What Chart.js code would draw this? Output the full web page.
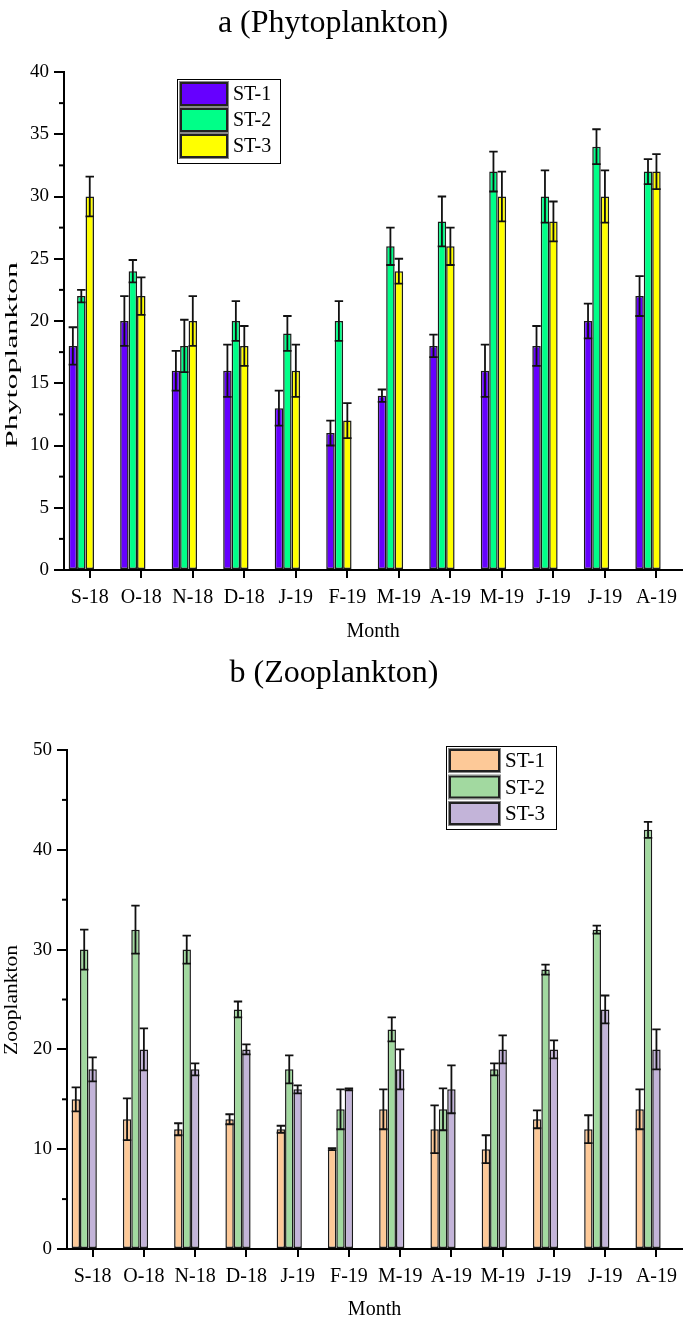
<!DOCTYPE html>
<html>
<head>
<meta charset="utf-8">
<script src="https://cdn.jsdelivr.net/npm/chart.js@4.4.1/dist/chart.umd.min.js"></script>
<style>
  html, body { margin: 0; padding: 0; background: #fff; }
  canvas { display: block; }
</style>
</head>
<body>
<canvas id="c1" width="685" height="650"></canvas>
<canvas id="c2" width="685" height="675"></canvas>
<script>
// ---------------- DATA ----------------
const months = ['S-18','O-18','N-18','D-18','J-19','F-19','M-19','A-19','M-19','J-19','J-19','A-19'];
const seriesNames = ['ST-1','ST-2','ST-3'];

const phytoST1    = [18, 20, 16, 16, 13, 11, 14, 18, 16, 18, 20, 22];
const phytoST1Err = [1.5, 2.0, 1.6, 2.1, 1.4, 1.0, 0.5, 0.9, 2.1, 1.6, 1.4, 1.6];
const phytoST2    = [22, 24, 18, 20, 19, 20, 26, 28, 32, 30, 34, 32];
const phytoST2Err = [0.5, 0.9, 2.1, 1.6, 1.4, 1.6, 1.5, 2.0, 1.6, 2.1, 1.4, 1.0];
const phytoST3    = [30, 22, 20, 18, 16, 12, 24, 26, 30, 28, 30, 32];
const phytoST3Err = [1.6, 1.5, 2.0, 1.6, 2.1, 1.4, 1.0, 1.5, 2.0, 1.6, 2.1, 1.4];

const zooST1    = [15, 13, 12, 13, 12, 10, 14, 12, 10, 13, 12, 14];
const zooST1Err = [1.2, 2.1, 0.6, 0.5, 0.35, 0.1, 2.0, 2.4, 1.4, 0.9, 1.4, 2.0];
const zooST2    = [30, 32, 30, 24, 18, 14, 22, 14, 18, 28, 32, 42];
const zooST2Err = [2.0, 2.4, 1.4, 0.8, 1.4, 2.0, 1.2, 2.1, 0.6, 0.5, 0.4, 0.8];
const zooST3    = [18, 20, 18, 20, 16, 16, 18, 16, 20, 20, 24, 20];
const zooST3Err = [1.2, 2.1, 0.6, 0.5, 0.4, 0.1, 2.0, 2.4, 1.4, 0.9, 1.4, 2.0];

const phytoTicks = { min: 0, max: 40, step: 5 };
const zooTicks   = { min: 0, max: 50, step: 10 };

// ---------------- STYLE ----------------
const FONT = '"Liberation Serif", "Times New Roman", serif';
Chart.defaults.font.family = FONT;
Chart.defaults.color = '#000';

const phytoColors = ['#6600ff', '#00ff88', '#ffff00'];
const zooColors   = ['#fdc998', '#a2d9a0', '#c3b4d9'];

const decor = {
  id: 'decor',
  afterDatasetsDraw(chart, args, o) {
    const ctx = chart.ctx;
    const ys = chart.scales.y;
    ctx.save();
    ctx.strokeStyle = '#111';
    ctx.lineWidth = 1.8;
    chart.data.datasets.forEach((ds, i) => {
      if (!ds.errors) return;
      const meta = chart.getDatasetMeta(i);
      meta.data.forEach((el, j) => {
        const v = ds.data[j], e = ds.errors[j];
        if (v == null || e == null) return;
        const x = el.x;
        const hw = el.width / 2;
        const yh = ys.getPixelForValue(v + e);
        const yl = ys.getPixelForValue(v - e);
        ctx.beginPath();
        ctx.moveTo(x, yh); ctx.lineTo(x, yl);
        ctx.moveTo(x - hw, yh); ctx.lineTo(x + hw, yh);
        ctx.moveTo(x - hw, yl); ctx.lineTo(x + hw, yl);
        ctx.stroke();
      });
    });
    ctx.restore();
  },
  afterDraw(chart, args, o) {
    const ctx = chart.ctx;
    const ca = chart.chartArea;
    const ys = chart.scales.y;
    ctx.save();
    // minor ticks
    ctx.strokeStyle = '#000';
    ctx.lineWidth = 2;
    const t = ys.ticks;
    for (let i = 0; i < t.length - 1; i++) {
      const v = (t[i].value + t[i + 1].value) / 2;
      const py = ys.getPixelForValue(v);
      ctx.beginPath();
      ctx.moveTo(ca.left - o.minorLen, py);
      ctx.lineTo(ca.left, py);
      ctx.stroke();
    }
    ctx.fillStyle = '#000';
    // title
    ctx.font = o.titleSize + 'px ' + FONT;
    ctx.textAlign = 'center';
    ctx.textBaseline = 'middle';
    ctx.fillText(o.title, o.titleX, o.titleY);
    // x title
    ctx.font = o.xTitleSize + 'px ' + FONT;
    ctx.fillText(o.xTitle, (ca.left + ca.right) / 2, o.xTitleY);
    // y title (stretched along its length, condensed across)
    ctx.save();
    ctx.translate(o.yTitleX, o.yTitleY);
    ctx.rotate(-Math.PI / 2);
    ctx.font = o.yTitleSize + 'px ' + FONT;
    const w = ctx.measureText(o.yTitle).width;
    ctx.scale(o.yTitleLen / w, o.yTitleCross);
    ctx.fillText(o.yTitle, 0, 0);
    ctx.restore();
    // legend
    const L = o.legend;
    ctx.fillStyle = '#fff';
    ctx.fillRect(L.x, L.y, L.w, L.h);
    ctx.strokeStyle = '#000';
    ctx.lineWidth = 1;
    ctx.strokeRect(L.x + 0.5, L.y + 0.5, L.w, L.h);
    ctx.font = L.fontSize + 'px ' + FONT;
    ctx.textAlign = 'left';
    ctx.textBaseline = 'middle';
    chart.data.datasets.forEach((ds, i) => {
      if (!ds.errors) return;
      const sy = L.y + L.pad + i * L.step;
      ctx.fillStyle = ds.backgroundColor;
      ctx.fillRect(L.x + L.pad, sy, L.sw, L.sh);
      ctx.strokeStyle = '#222';
      ctx.lineWidth = 2;
      ctx.strokeRect(L.x + L.pad + 1, sy + 1, L.sw - 2, L.sh - 2);
      ctx.strokeStyle = '#888';
      ctx.lineWidth = 1;
      ctx.strokeRect(L.x + L.pad - 0.5, sy - 0.5, L.sw + 1, L.sh + 1);
      ctx.fillStyle = '#000';
      ctx.fillText(ds.label, L.x + L.pad + L.sw + 5, sy + L.sh / 2 + 1);
    });
    ctx.restore();
  }
};

function makeDatasets(vals, errs, colors) {
  const ds = vals.map((v, i) => ({
    label: seriesNames[i],
    data: v,
    errors: errs[i],
    backgroundColor: colors[i],
    borderColor: '#1a1a1a',
    borderWidth: 1.5,
    borderSkipped: false,
    barPercentage: 1,
    categoryPercentage: 0.82
  }));
  // two empty slots so that the month tick sits on the ST-3 bar, as in the original
  for (let k = 0; k < 2; k++) {
    ds.push({ label: '', data: months.map(() => null), barPercentage: 1, categoryPercentage: 0.82 });
  }
  return ds;
}

function makeChart(id, cfg) {
  return new Chart(document.getElementById(id), {
    type: 'bar',
    data: { labels: months, datasets: makeDatasets(cfg.vals, cfg.errs, cfg.colors) },
    plugins: [decor],
    options: {
      responsive: false,
      devicePixelRatio: 1,
      animation: false,
      layout: { padding: { top: cfg.top, right: 0, left: 0, bottom: 0 } },
      plugins: {
        legend: { display: false },
        tooltip: { enabled: false },
        decor: cfg.decor
      },
      scales: {
        x: {
          afterFit: s => { s.height = cfg.xHeight; },
          grid: { offset: false, drawOnChartArea: false, drawTicks: true, tickLength: 8, lineWidth: 2, color: '#000' },
          border: { display: true, color: '#000', width: 2 },
          ticks: { font: { size: 20 }, color: '#000', padding: 8, maxRotation: 0, autoSkip: false }
        },
        y: {
          min: cfg.ticks.min, max: cfg.ticks.max,
          afterFit: s => { s.width = cfg.yWidth; },
          grid: { drawOnChartArea: false, drawTicks: true, tickLength: 10, lineWidth: 2, color: '#000' },
          border: { display: true, color: '#000', width: 2 },
          ticks: { stepSize: cfg.ticks.step, font: { size: 19 }, color: '#000', padding: 5 }
        }
      }
    }
  });
}

makeChart('c1', {
  vals: [phytoST1, phytoST2, phytoST3],
  errs: [phytoST1Err, phytoST2Err, phytoST3Err],
  colors: phytoColors,
  ticks: phytoTicks,
  top: 72, xHeight: 80, yWidth: 64,
  decor: {
    minorLen: 5,
    title: 'a (Phytoplankton)', titleSize: 32, titleX: 333, titleY: 24,
    xTitle: 'Month', xTitleSize: 20, xTitleY: 632,
    yTitle: 'Phytoplankton', yTitleSize: 26, yTitleCross: 0.68, yTitleX: 12, yTitleY: 355, yTitleLen: 186,
    legend: { x: 177, y: 79, w: 103, h: 84, pad: 3, step: 26, sw: 48, sh: 24, fontSize: 20 }
  }
});

makeChart('c2', {
  vals: [zooST1, zooST2, zooST3],
  errs: [zooST1Err, zooST2Err, zooST3Err],
  colors: zooColors,
  ticks: zooTicks,
  top: 100, xHeight: 76, yWidth: 67,
  decor: {
    minorLen: 5,
    title: 'b (Zooplankton)', titleSize: 32, titleX: 334, titleY: 24,
    xTitle: 'Month', xTitleSize: 20, xTitleY: 660,
    yTitle: 'Zooplankton', yTitleSize: 21, yTitleCross: 0.85, yTitleX: 12, yTitleY: 350, yTitleLen: 110,
    legend: { x: 446, y: 96, w: 110, h: 83, pad: 3, step: 26.5, sw: 51, sh: 23, fontSize: 21 }
  }
});
</script>
</body>
</html>
